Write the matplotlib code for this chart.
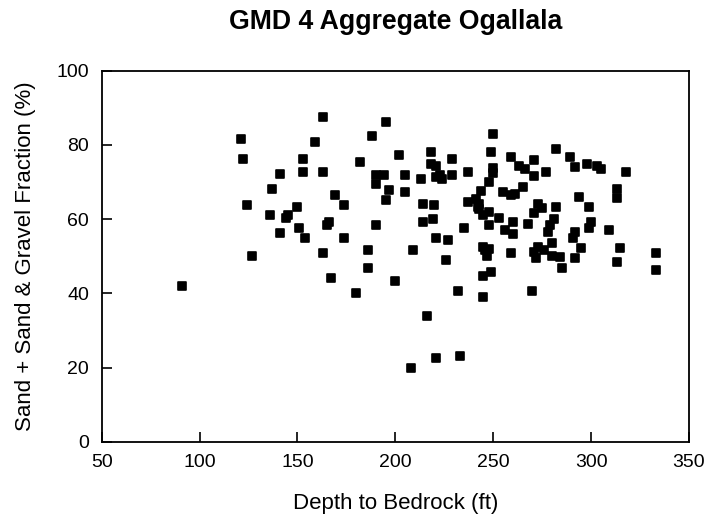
import matplotlib.pyplot as plt
from matplotlib.markers import MarkerStyle

plt.rcParams['font.family'] = ['Liberation Sans', 'DejaVu Sans']

# depth to bedrock (ft) and sand + sand & gravel fraction (%) per well
depth = [91, 121, 122, 124, 127, 136, 137, 141, 141, 144, 145, 150, 151, 153, 153,
         154, 159, 163, 163, 163, 165, 166, 167, 169, 174, 174, 180, 182, 186, 186,
         188, 190, 190, 190, 194, 195, 195, 197, 200, 202, 205, 205, 208, 209, 213,
         214, 214, 216, 218, 218, 219, 220, 221, 221, 221, 221, 223, 224, 226, 227,
         229, 229, 232, 233, 235, 237, 237, 241, 242, 243, 244, 245, 245, 245, 245,
         246, 247, 248, 248, 248, 248, 249, 249, 250, 250, 250, 253, 255, 256, 259,
         259, 259, 260, 260, 263, 266, 265, 268, 270, 271, 271, 271, 271, 272, 273,
         273, 275, 276, 277, 278, 279, 280, 280, 281, 282, 282, 284, 285, 289, 291,
         292, 292, 292, 294, 295, 298, 299, 299, 300, 303, 305, 309, 313, 313, 313,
         315, 318, 333, 333, 243, 261]
fraction = [42.1, 81.5, 76.1, 63.9, 50.0, 61.1, 68.0, 72.1, 56.3, 60.3, 61.2, 63.2, 57.7, 76.2, 72.7,
            55.0, 80.7, 87.6, 72.7, 51.0, 58.5, 59.2, 44.2, 66.5, 55.0, 63.9, 40.1, 75.3, 51.8, 46.9,
            82.3, 72.0, 69.4, 58.5, 72.0, 65.2, 86.3, 67.9, 43.4, 77.4, 71.9, 67.4, 20.0, 51.8, 70.8,
            64.0, 59.2, 34.0, 78.0, 74.9, 59.9, 63.9, 74.2, 55.0, 22.7, 71.3, 72.0, 70.8, 49.0, 54.4,
            76.2, 72.0, 40.7, 23.1, 57.6, 64.6, 72.7, 65.4, 63.4, 62.6, 67.5, 61.1, 52.6, 44.8, 38.9,
            51.7, 50.1, 69.9, 61.9, 58.5, 51.9, 45.7, 78.1, 82.9, 73.7, 72.5, 60.4, 67.4, 57.2, 76.7,
            66.5, 51.0, 59.3, 56.0, 74.2, 73.6, 68.7, 58.6, 40.7, 76.0, 71.5, 61.7, 51.2, 49.4, 64.0,
            52.6, 63.1, 51.7, 72.7, 56.4, 58.5, 53.5, 50.1, 59.9, 78.9, 63.4, 49.7, 46.9, 76.8, 54.9,
            56.4, 74.0, 49.4, 66.0, 52.3, 74.8, 63.4, 57.6, 59.2, 74.2, 73.6, 57.2, 68.1, 65.8, 48.4,
            52.3, 72.7, 51.0, 46.2, 64.2, 66.8]

fig = plt.figure(figsize=(7.07, 5.29), dpi=100)
ax = fig.add_axes([0.1438, 0.165, 0.8307, 0.7013])

# square markers with slightly rounded corners
marker = MarkerStyle('s', joinstyle='round')
ax.plot(depth, fraction, linestyle='none', marker=marker, color='black',
        markersize=5.6, markeredgewidth=1.2)

ax.set_xlim(50, 350)
ax.set_ylim(0, 100)
ax.set_xticks([50, 100, 150, 200, 250, 300, 350])
ax.set_yticks([0, 20, 40, 60, 80, 100])
ax.tick_params(direction='in', length=7.5, width=1.2, labelsize=14, pad=9)
for s in ax.spines.values():
    s.set_linewidth(1.3)

ax.set_xlabel('Depth to Bedrock (ft)', fontsize=16, labelpad=16)
ax.set_ylabel('Sand + Sand & Gravel Fraction (%)', fontsize=16, labelpad=15)
fig.text(0.559, 0.958, 'GMD 4 Aggregate Ogallala', fontsize=19.2, fontweight='bold',
         ha='center', va='center')

plt.savefig('out.png', dpi=100)
